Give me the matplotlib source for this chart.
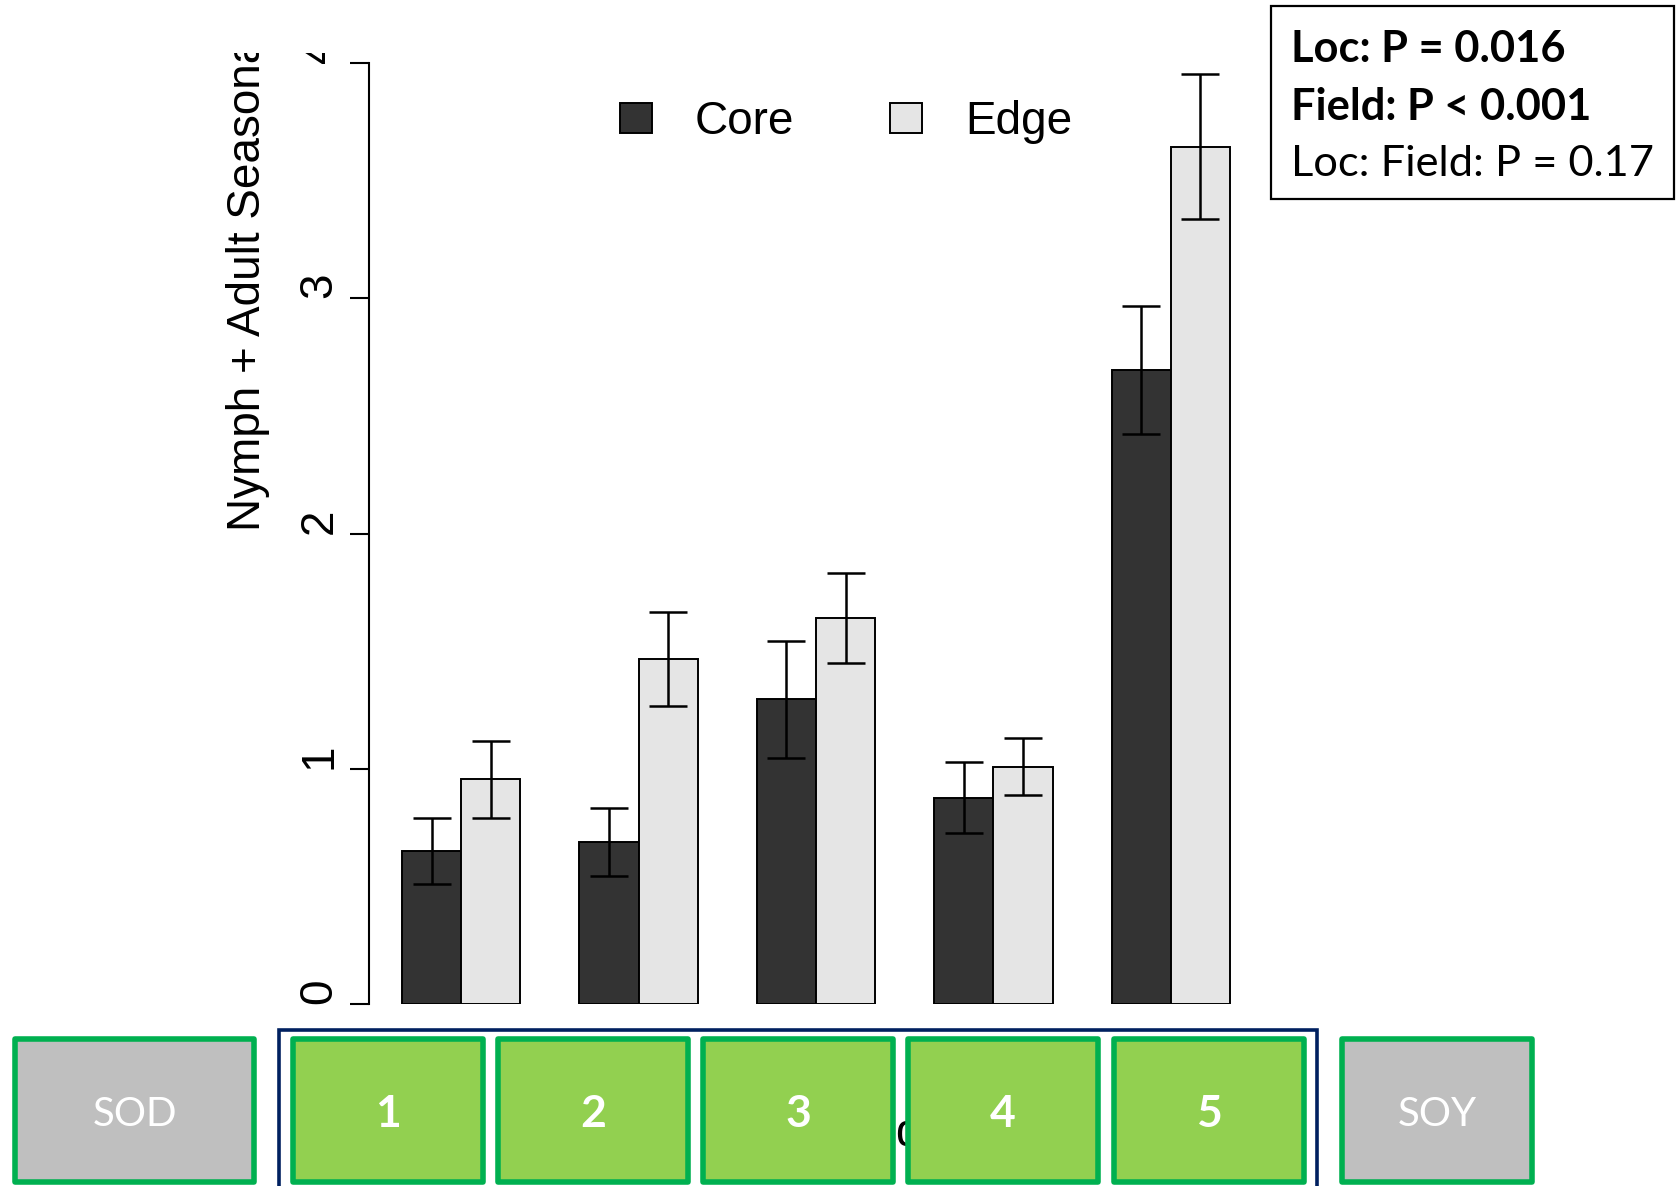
import numpy as np
import matplotlib.pyplot as plt
from matplotlib.patches import Rectangle

# seasonal density per field, core vs edge plots (mean and SE)
fields = ["1", "2", "3", "4", "5"]
core_mean = [0.65, 0.69, 1.295, 0.877, 2.695]
core_se = [0.14, 0.145, 0.25, 0.15, 0.27]
edge_mean = [0.955, 1.468, 1.641, 1.009, 3.645]
edge_se = [0.165, 0.20, 0.19, 0.12, 0.31]
yticks = [0, 1, 2, 3, 4]

stats_lines = ["Loc: P = 0.016", "Field: P < 0.001", "Loc: Field: P = 0.17"]
stats_bold = [True, True, False]
end_labels = ["SOD", "SOY"]

W, H = 1676, 1186
fig = plt.figure(figsize=(W / 100, H / 100), dpi=100)

def fx(px):
    return px / W

def fy(py):
    return 1 - py / H

# barplot(beside=TRUE, space=c(0,1)) style positions, xlim widened by 4%
ax = fig.add_axes([fx(369), fy(1004), fx(1263) - fx(369), fy(63) - fy(1004)])
grp_start = 1 + 3 * np.arange(len(fields))
x_core = grp_start + 0.5
x_edge = grp_start + 1.5

ax.bar(x_core, core_mean, width=1, color="#333333", edgecolor="black", linewidth=1.4, label="Core", zorder=2)
ax.bar(x_edge, edge_mean, width=1, color="#e5e5e5", edgecolor="black", linewidth=1.4, label="Edge", zorder=2)
ax.errorbar(x_core, core_mean, yerr=core_se, fmt="none", ecolor="black", elinewidth=1.8,
            capsize=14, capthick=1.8, zorder=3, clip_on=False)
ax.errorbar(x_edge, edge_mean, yerr=edge_se, fmt="none", ecolor="black", elinewidth=1.8,
            capsize=14, capthick=1.8, zorder=3, clip_on=False)

ax.set_xlim(0.44, 15.56)
ax.set_ylim(0, 4)
ax.set_xticks([])
ax.set_yticks(yticks)
ax.set_yticklabels([str(t) for t in yticks], family="Liberation Sans", fontsize=33,
                   rotation=90, va="bottom")
ax.tick_params(axis="y", length=13.7, width=1.5, pad=6)
for s in ["top", "right", "bottom"]:
    ax.spines[s].set_visible(False)
ax.spines["left"].set_linewidth(1.5)
ax.spines["left"].set_bounds(0, 4)
ax.patch.set_alpha(0)

fig.legend(handles=ax.patches[:1] + ax.patches[5:6], labels=["Core", "Edge"], ncol=2,
           loc="center", bbox_to_anchor=(fx(846), fy(122)), frameon=False,
           prop={"family": "Liberation Sans", "size": 33},
           handlelength=0.70, handleheight=0.63, handletextpad=0.93, columnspacing=2.1)

fig.text(fx(248), fy(531), "Nymph + Adult Seasonal Density", rotation=90,
         ha="center", va="bottom", family="Liberation Sans", fontsize=33, zorder=1)
# x label sits behind the field strip
fig.text(fx(822), fy(1146), "Field", ha="left", va="baseline",
         family="Liberation Sans", fontsize=33, zorder=1)

# the graph is cut off along its top edge
fig.patches.append(Rectangle((0, fy(53)), fx(1265), 1 - fy(53), transform=fig.transFigure,
                             facecolor="white", edgecolor="none", zorder=10))

# statistics box
fig.patches.append(Rectangle((fx(1271), fy(199)), fx(1674) - fx(1271), fy(6) - fy(199),
                             transform=fig.transFigure, facecolor="white",
                             edgecolor="black", linewidth=1.6, zorder=11))
for i, (line, bold) in enumerate(zip(stats_lines, stats_bold)):
    fig.text(fx(1291), fy(49 + 57.5 * i), line, ha="left", va="center",
             family="Lato", fontsize=31.2, fontweight="bold" if bold else "normal", zorder=12)

# field strip along the bottom
navy = "#002060"
green_edge = "#00b050"
fig.patches.append(Rectangle((fx(279), fy(1192)), fx(1317) - fx(279), fy(1030) - fy(1192),
                             transform=fig.transFigure, facecolor="none", edgecolor=navy,
                             linewidth=2.6, zorder=5))

def strip_box(x0, x1, fill, label, bold, size):
    inset = 2.8
    fig.patches.append(Rectangle((fx(x0 + inset), fy(1182)), fx(x1 - inset) - fx(x0 + inset),
                                 fy(1036 + inset) - fy(1182), transform=fig.transFigure,
                                 facecolor=fill, edgecolor=green_edge, linewidth=4,
                                 joinstyle="round", zorder=6))
    fig.text(fx((x0 + x1) / 2), fy(1114), label, ha="center", va="center", color="white",
             family="Lato", fontsize=size, fontweight="bold" if bold else "normal", zorder=7)

strip_box(12, 257, "#bfbfbf", end_labels[0], False, 29)
box_left = [290, 495, 700, 905, 1111]
for x0, lab in zip(box_left, fields):
    strip_box(x0, x0 + 196, "#92d050", lab, True, 32)
strip_box(1339, 1535, "#bfbfbf", end_labels[1], False, 29)

fig.savefig("out.png", dpi=100)
